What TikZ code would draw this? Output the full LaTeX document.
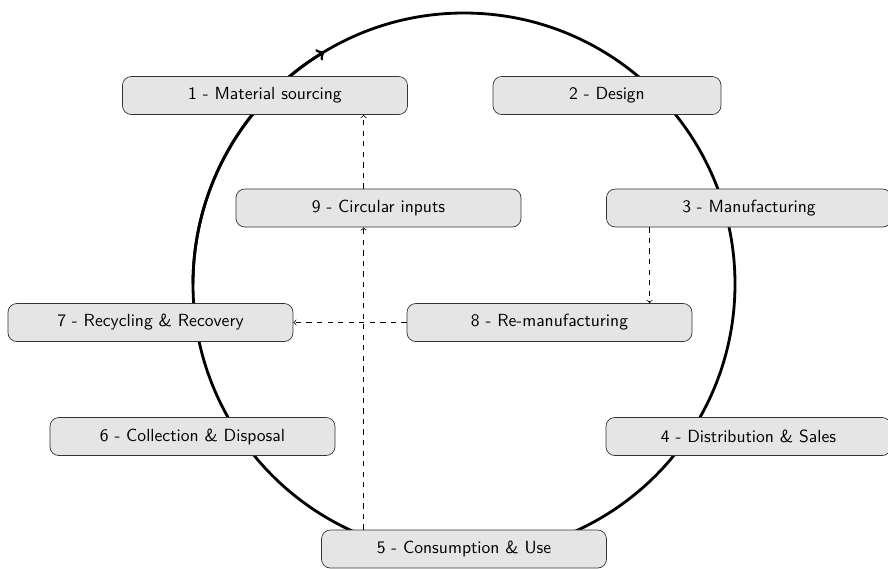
\documentclass[tikz,border=0pt]{standalone}
\usetikzlibrary{positioning}
\begin{document}
\begin{tikzpicture}[font=\sffamily, main/.style={rectangle, draw=black!80, fill=gray!20, rounded corners=5pt, minimum width=5.7cm, minimum height=0.76cm}, flow/.style={->, dashed}]
        \useasboundingbox (-9.28,-5.68) rectangle (8.48,5.68);
        \draw[ultra thick] (0,0) circle (5.42);
        \draw[ultra thick, ->] (180:5.42) arc (180:121:5.42);
        \node[main] (1) at (-3.98,3.77) {1 - Material sourcing};
        \node[main, minimum width=4.56cm] (2) at (2.86,3.77) {2 - Design};
        \node[main] (9) at (-1.71,1.52) {9 - Circular inputs};
        \node[main] (3) at (5.70,1.52) {3 - Manufacturing};
        \node[main] (7) at (-6.27,-0.77) {7 - Recycling \& Recovery};
        \node[main] (8) at (1.71,-0.77) {8 - Re-manufacturing};
        \node[main] (6) at (-5.43,-3.05) {6 - Collection \& Disposal};
        \node[main] (4) at (5.69,-3.05) {4 - Distribution \& Sales};
        \node[main] (5) at (0,-5.30) {5 - Consumption \& Use};
        \draw[flow] ([xshift=0.87cm]3.south west) -- ([xshift=0.87cm]3.south west |- 8.north);
        \draw[flow] (8) -- (7);
        \draw[flow] ([xshift=0.85cm]5.north west) -- ([xshift=0.85cm]5.north west |- 9.south);
        \draw[flow] ([xshift=0.85cm]5.north west |- 9.north) -- ([xshift=0.85cm]5.north west |- 1.south);
    \end{tikzpicture}
\end{document}
